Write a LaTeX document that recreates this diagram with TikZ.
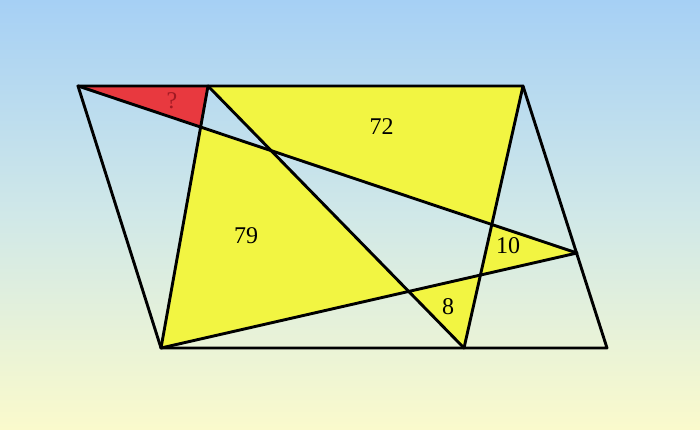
\documentclass[tikz,border=0pt]{standalone}
\usepackage{fontspec}
\setmainfont{Liberation Serif}
\definecolor{skytop}{RGB}{166,208,245}
\definecolor{skymid}{RGB}{208,232,232}
\definecolor{skybot}{RGB}{250,250,204}
\definecolor{fillyel}{RGB}{242,245,66}
\definecolor{fillred}{RGB}{232,57,63}
\definecolor{qred}{RGB}{160,25,35}
\begin{document}
\begin{tikzpicture}[x=1pt,y=-1pt,
  edge/.style={line width=2.9pt,line join=round,line cap=round},
  lab/.style={font=\fontsize{24}{27}\selectfont}]
\shade[top color=skytop,bottom color=skybot,middle color=skymid] (0,0) rectangle (700,429);
\useasboundingbox (0,0) rectangle (700,429);
\coordinate (A) at (78,86);
\coordinate (B) at (523,86);
\coordinate (C) at (607,348);
\coordinate (D) at (161,348);
\coordinate (P) at (208,86);
\coordinate (Q) at (464,348);
\coordinate (R) at (577,253);
\coordinate (X1) at (intersection of A--R and B--Q);
\coordinate (X2) at (intersection of A--R and P--Q);
\coordinate (X3) at (intersection of P--Q and D--R);
\coordinate (X4) at (intersection of B--Q and D--R);
\coordinate (Y1) at (intersection of A--R and P--D);
\fill[fillyel] (P) -- (B) -- (X1) -- (X2) -- cycle;
\fill[fillyel] (Y1) -- (X2) -- (X3) -- (D) -- cycle;
\fill[fillyel] (X1) -- (R) -- (X4) -- cycle;
\fill[fillyel] (X3) -- (X4) -- (Q) -- cycle;
\fill[fillred] (A) -- (P) -- (Y1) -- cycle;
\draw[edge] (A) -- (B) -- (C) -- (D) -- cycle;
\draw[edge] (A) -- (R);
\draw[edge] (P) -- (D);
\draw[edge] (P) -- (Q);
\draw[edge] (B) -- (Q);
\draw[edge] (D) -- (R);
\node[lab,text=qred] (q) at (172,101) {?};
\node[lab] (n72) at (381.5,127) {72};
\node[lab] (n79) at (246,236) {79};
\node[lab] (n10) at (508,246) {10};
\node[lab] (n8) at (448,307) {8};
\end{tikzpicture}
\end{document}
